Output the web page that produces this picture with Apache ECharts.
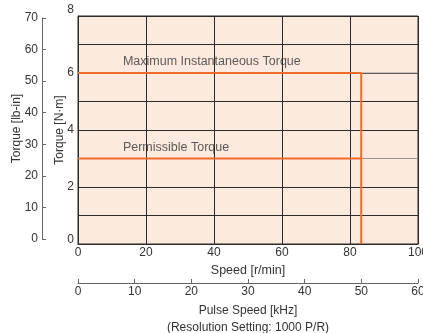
<!DOCTYPE html>
<html>
<head>
<meta charset="utf-8">
<script src="https://cdn.jsdelivr.net/npm/echarts@6/dist/echarts.min.js"></script>
<style>
  html, body { margin: 0; padding: 0; background: #fff; }
  #chart { width: 423px; height: 333px; }
</style>
</head>
<body>
<div id="chart"></div>
<script>
// Speed–torque characteristics
const FONT = '"Liberation Sans", Arial, sans-serif';
const speedTicks = [0, 20, 40, 60, 80, 100];        // r/min
const pulseTicks = [0, 10, 20, 30, 40, 50, 60];     // kHz
const torqueNmTicks = [0, 2, 4, 6, 8];              // N·m
const torqueLbInTicks = [0, 10, 20, 30, 40, 50, 60, 70]; // lb-in

const maxSpeed = 83.3;            // r/min, end of the usable range
const maxInstTorque = 6;          // N·m
const permissibleTorque = 3;      // N·m

const maxInstCurve = [[0, maxInstTorque], [maxSpeed, maxInstTorque], [maxSpeed, 0]];
const permissibleCurve = [[0, permissibleTorque], [maxSpeed, permissibleTorque]];
const curveLabels = [
  { name: 'Maximum Instantaneous Torque', at: [13.2, 6.4] },
  { name: 'Permissible Torque', at: [13.2, 3.4] }
];

const ORANGE = '#f26a2c';
const TEXT = '#333333';
const GRIDC = '#2b2b2b';

const chart = echarts.init(document.getElementById('chart'), null, { renderer: 'canvas' });

const nmMin = torqueNmTicks[0];
const nmMax = torqueNmTicks[torqueNmTicks.length - 1];

chart.setOption({
  animation: false,
  textStyle: { fontFamily: FONT },
  grid: [
    { left: 78, top: 16, width: 340, height: 228, show: true, backgroundColor: '#fdeadf', borderColor: GRIDC, borderWidth: 1, containLabel: false, outerBoundsMode: 'none' },
    { left: 42, top: 18, width: 1, height: 221, show: false, containLabel: false, outerBoundsMode: 'none' }
  ],
  xAxis: [
    {
      gridIndex: 0, type: 'value', min: speedTicks[0], max: speedTicks[speedTicks.length - 1], interval: 20,
      name: 'Speed [r/min]', nameLocation: 'middle', nameGap: 20, nameMoveOverlap: false,
      nameTextStyle: { color: TEXT, fontSize: 12.5, fontFamily: FONT },
      axisLine: { show: true, lineStyle: { color: GRIDC } },
      axisTick: { show: false },
      axisLabel: { color: TEXT, fontSize: 12, fontFamily: FONT, margin: 3 },
      splitLine: { show: true, lineStyle: { color: GRIDC, width: 1 } }
    },
    {
      gridIndex: 0, type: 'value', position: 'bottom', offset: 39,
      min: pulseTicks[0], max: pulseTicks[pulseTicks.length - 1], interval: 10,
      name: 'Pulse Speed [kHz]\n(Resolution Setting: 1000 P/R)', nameLocation: 'middle', nameGap: 19, nameMoveOverlap: false,
      nameTextStyle: { color: TEXT, fontSize: 12, fontFamily: FONT, lineHeight: 17 },
      axisLine: { show: true, lineStyle: { color: '#666' } },
      axisTick: { show: true, inside: true, length: 4, lineStyle: { color: '#666' } },
      axisLabel: { color: TEXT, fontSize: 12, fontFamily: FONT, margin: 3 },
      splitLine: { show: false }
    },
    { gridIndex: 1, type: 'value', show: false, min: 0, max: 1 }
  ],
  yAxis: [
    {
      gridIndex: 0, type: 'value', min: nmMin, max: nmMax, interval: 1,
      name: 'Torque [N·m]', nameLocation: 'middle', nameGap: 12, nameMoveOverlap: false,
      nameTextStyle: { color: TEXT, fontSize: 12, fontFamily: FONT },
      axisLine: { show: true, lineStyle: { color: GRIDC } },
      axisTick: { show: false },
      axisLabel: {
        color: TEXT, fontSize: 12, fontFamily: FONT, margin: 4,
        // end labels sit just above their gridline
        formatter: v => {
          if (!torqueNmTicks.includes(v)) return '';
          if (v === nmMax) return '{hi|' + v + '}';
          if (v === nmMin) return '{lo|' + v + '}';
          return String(v);
        },
        rich: {
          hi: { color: TEXT, fontSize: 12, fontFamily: FONT, padding: [0, 0, 12, 0] },
          lo: { color: TEXT, fontSize: 12, fontFamily: FONT, padding: [0, 0, 8, 0] }
        }
      },
      splitLine: { show: true, lineStyle: { color: GRIDC, width: 1 } }
    },
    {
      gridIndex: 1, type: 'value', min: torqueLbInTicks[0], max: torqueLbInTicks[torqueLbInTicks.length - 1], interval: 10,
      name: 'Torque [lb-in]', nameLocation: 'middle', nameGap: 19, nameMoveOverlap: false,
      nameTextStyle: { color: TEXT, fontSize: 12, fontFamily: FONT },
      axisLine: { show: true, lineStyle: { color: '#666' } },
      axisTick: { show: true, inside: true, length: 4, lineStyle: { color: '#666' } },
      axisLabel: { color: TEXT, fontSize: 12, fontFamily: FONT, margin: 4 },
      splitLine: { show: false }
    }
  ],
  series: [
    {
      type: 'line', xAxisIndex: 0, yAxisIndex: 0, symbol: 'none', silent: true,
      data: [[maxSpeed, maxInstTorque], [speedTicks[speedTicks.length - 1], maxInstTorque]],
      lineStyle: { color: '#9a9290', width: 1 }
    },
    {
      type: 'line', xAxisIndex: 0, yAxisIndex: 0, symbol: 'none', silent: true,
      data: [[maxSpeed, permissibleTorque], [speedTicks[speedTicks.length - 1], permissibleTorque]],
      lineStyle: { color: '#9a9290', width: 1 }
    },
    {
      name: 'Maximum Instantaneous Torque', type: 'line', xAxisIndex: 0, yAxisIndex: 0,
      symbol: 'none', data: maxInstCurve, lineStyle: { color: ORANGE, width: 2 }
    },
    {
      name: 'Permissible Torque', type: 'line', xAxisIndex: 0, yAxisIndex: 0,
      symbol: 'none', data: permissibleCurve, lineStyle: { color: ORANGE, width: 2 }
    },
    {
      type: 'scatter', xAxisIndex: 0, yAxisIndex: 0, symbolSize: 0, silent: true,
      data: curveLabels.map(c => ({ name: c.name, value: c.at })),
      label: {
        show: true, position: 'right', distance: 0, formatter: p => p.name,
        color: TEXT, fontSize: 12.5, fontFamily: FONT
      }
    }
  ]
});
</script>
</body>
</html>
